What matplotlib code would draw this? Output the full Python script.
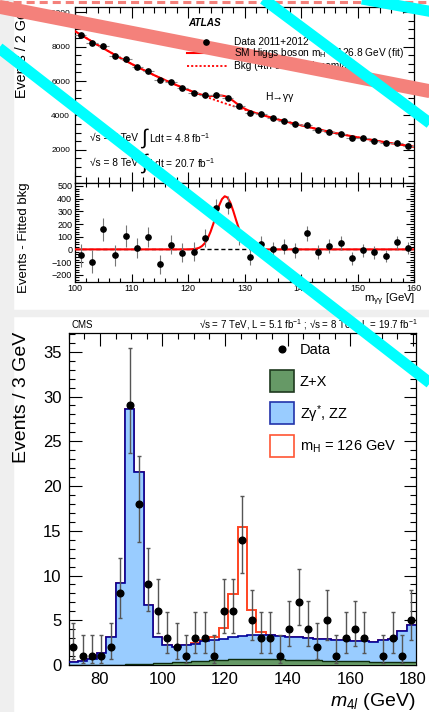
import numpy as np
import matplotlib
matplotlib.use('Agg')
import matplotlib.pyplot as plt
import matplotlib.transforms as mtransforms
from matplotlib.patches import Rectangle
from matplotlib.lines import Line2D
from matplotlib.ticker import MultipleLocator, FixedLocator

plt.rcParams['font.family'] = ['Liberation Sans', 'DejaVu Sans']
plt.rcParams['mathtext.fontset'] = 'custom'
plt.rcParams['mathtext.rm'] = 'Liberation Sans'
plt.rcParams['mathtext.it'] = 'Liberation Sans:italic'
plt.rcParams['mathtext.bf'] = 'Liberation Sans:bold'
plt.rcParams['lines.scale_dashes'] = False

W, H = 429, 712

# ---- ATLAS H->gamma gamma (2 GeV bins) ----
atlas_centers = np.arange(101, 160, 2)
atlas_counts = [8674, 8190, 8054, 7454, 7280, 6834, 6602, 6060, 5944, 5595,
                5324, 5208, 5208, 4995, 4550, 4163, 4066, 3833, 3698, 3485,
                3446, 3156, 3059, 2923, 2710, 2672, 2517, 2381, 2381, 2246]
atlas_resid = [-48, -98, 158, -48, 108, 11, 98, -119, 37, -26,
               -18, 92, 325, 348, 100, -61, 40, 0, 21, -8,
               127, -18, 24, 50, -71, -8, -24, -53, 55, 8]
# 4th order polynomial background fit, read every 2 GeV
bkg_x = np.arange(100, 161, 2)
bkg_fit = [8900, 8500, 8100, 7720, 7350, 7000, 6665, 6345, 6045, 5760,
           5490, 5235, 4990, 4760, 4545, 4335, 4135, 3945, 3765, 3595,
           3430, 3275, 3125, 2985, 2855, 2730, 2610, 2495, 2385, 2280, 2180]
# fitted signal (S+B - B), read every 0.5 GeV
sig_x = np.arange(119, 134.1, 0.5)
sig_fit = [0, 0.1, 0.3, 1, 2.5, 6, 13, 27, 50, 87, 140, 204, 276, 345, 396,
           419, 409, 368, 305, 233, 164, 106, 64, 35, 18, 8, 4, 1.5, 0.5, 0, 0]

# ---- CMS H->4l (3 GeV bins, 70-181) ----
cms_edges = np.arange(70, 182, 3)
cms_data = [2, 1, 1, 1, 2, 8, 29, 18, 9, 6, 3, 2, 1, 3, 3, 1, 6, 6, 14, 5,
            3, 3, 1, 4, 7, 4, 2, 5, 1, 3, 4, 3, 0, 1, 3, 1, 5]
cms_zx = [0.0, 0.0, 0.01, 0.02, 0.03, 0.05, 0.08, 0.12, 0.16, 0.21, 0.27, 0.33,
          0.39, 0.45, 0.5, 0.55, 0.59, 0.62, 0.64, 0.65, 0.65, 0.64, 0.62, 0.6,
          0.58, 0.55, 0.52, 0.5, 0.47, 0.44, 0.42, 0.4, 0.37, 0.35, 0.33, 0.31, 0.3]
cms_zz = [0.35, 0.45, 0.69, 1.28, 3.07, 9.15, 28.52, 21.48, 6.54, 2.89, 1.93, 1.67,
          1.81, 1.95, 2.2, 2.25, 2.31, 2.48, 2.56, 2.7, 2.75, 2.66, 2.58, 2.55,
          2.52, 2.5, 2.38, 2.35, 2.33, 2.31, 2.28, 2.25, 2.23, 2.4, 2.57, 3.49, 4.2]
cms_sig = [0, 0, 0, 0, 0, 0, 0, 0, 0.05, 0.03, 0.03, 0.04, 0.05, 0.06, 0.1, 0.3,
           1.2, 4.8, 12.2, 2.85, 0.3, 0.1, 0.05] + [0.02] * 14
# Garwood 68% intervals
pois_lo = {1: 0.83, 2: 1.29, 3: 1.63, 4: 1.91, 5: 2.16, 6: 2.38, 7: 2.58,
           8: 2.77, 9: 2.94, 14: 3.70, 18: 4.21, 29: 5.33}
pois_hi = {1: 2.30, 2: 2.64, 3: 2.92, 4: 3.16, 5: 3.38, 6: 3.58, 7: 3.77,
           8: 3.94, 9: 4.11, 14: 4.83, 18: 5.30, 29: 6.43}

fig = plt.figure(figsize=(W / 100, H / 100), dpi=100)
pix = mtransforms.Affine2D().scale(1 / W, -1 / H).translate(0, 1) + fig.transFigure


def box(l, t, r, b):
    return [l / W, 1 - b / H, (r - l) / W, (b - t) / H]


def root_ticks(ax, size, maj, mnr):
    ax.tick_params(which='both', direction='in', top=True, right=True,
                   labelsize=size, width=0.8, colors='black')
    ax.tick_params(which='major', length=maj)
    ax.tick_params(which='minor', length=mnr)
    for s in ax.spines.values():
        s.set_linewidth(0.9)


def ftext(x, y, s, **kw):
    return fig.text(x, y, s, transform=pix, **kw)


def ylabel_up(x, y_start, s, size):
    # rotated label that reads upward starting at y_start
    return ftext(x, y_start, s, rotation=90, rotation_mode='anchor',
                 ha='left', va='center', fontsize=size)


# grey page bits
fig.add_artist(Rectangle((0, 0), 13, H, transform=pix, color='#efefef', zorder=-5))
fig.add_artist(Rectangle((0, 310), W, 6, transform=pix, color='#efefef', zorder=-5))

# ---------- ATLAS main ----------
ax1 = fig.add_axes(box(75, 7.3, 414, 182.7))
ax1.errorbar(atlas_centers, atlas_counts, xerr=1, yerr=np.sqrt(atlas_counts),
             fmt='o', ms=3.8, color='black', ecolor='#888888', elinewidth=0.8, zorder=4)
ax1.plot(bkg_x, bkg_fit, color='red', lw=1.3, ls=(0, (1.5, 1.5)), zorder=3)
bkg_arr = np.array(bkg_fit, dtype=float)
left = bkg_x < sig_x[0]
right = bkg_x > sig_x[-1]
sb_x = np.concatenate([bkg_x[left], sig_x, bkg_x[right]])
sb_y = np.concatenate([bkg_arr[left], np.interp(sig_x, bkg_x, bkg_arr) + sig_fit,
                       bkg_arr[right]])
ax1.plot(sb_x, sb_y, color='red', lw=1.5, zorder=3)
ax1.set_xlim(100, 160)
ax1.set_ylim(90, 10290)
ax1.yaxis.set_major_locator(FixedLocator(range(2000, 10001, 2000)))
ax1.yaxis.set_minor_locator(MultipleLocator(500))
ax1.xaxis.set_major_locator(MultipleLocator(10))
ax1.xaxis.set_minor_locator(MultipleLocator(2))
root_ticks(ax1, 6, 8, 4)
ax1.tick_params(labelbottom=False)

# ---------- ATLAS residual ----------
ax2 = fig.add_axes(box(75, 182.7, 414, 281.7))
ax2.axhline(0, color='black', lw=1, ls=(0, (3, 2)), zorder=2)
res_x = np.concatenate([[100], sig_x, [160]])
res_y = np.concatenate([[0], sig_fit, [0]])
ax2.plot(res_x, res_y, color='red', lw=1.5, zorder=3)
ax2.errorbar(atlas_centers, atlas_resid, yerr=np.sqrt(atlas_counts),
             fmt='o', ms=3.8, color='black', ecolor='#777777', elinewidth=0.8, zorder=4)
ax2.set_xlim(100, 160)
ax2.set_ylim(-255, 526)
ax2.yaxis.set_major_locator(MultipleLocator(100))
ax2.yaxis.set_minor_locator(MultipleLocator(20))
ax2.xaxis.set_major_locator(MultipleLocator(10))
ax2.xaxis.set_minor_locator(MultipleLocator(2))
root_ticks(ax2, 6.5, 6, 3)
ax2.tick_params(axis='x', pad=1.5)
ax2.tick_params(axis='y', pad=2)

ylabel_up(22.5, 98, 'Events / 2 GeV', 10.3)
ylabel_up(23.5, 293, 'Events - Fitted bkg', 9.5)
ftext(415, 300, r'm$_{\mathrm{γγ}}$ [GeV]', ha='right', va='center', fontsize=8.2)
ftext(188, 23, 'ATLAS', ha='left', va='center', fontsize=7.2,
      fontweight='bold', fontstyle='italic')
fig.add_artist(Line2D([206], [42], marker='o', ms=3.8, color='black',
                      transform=pix, zorder=12))
fig.add_artist(Line2D([187, 227], [53, 53], color='red', lw=1.5, transform=pix))
fig.add_artist(Line2D([187, 227], [66, 66], color='red', lw=1.3,
                      ls=(0, (1.5, 1.5)), transform=pix))
ftext(234, 42, 'Data 2011+2012', va='center', fontsize=7.3, zorder=12)
ftext(234, 53, r'SM Higgs boson m$_{\mathrm{H}}$ = 126.8 GeV (fit)', va='center',
      fontsize=7.3, zorder=12)
ftext(234, 66, 'Bkg (4th order polynomial)', va='center', fontsize=7.3)
ftext(265, 97, 'H→γγ', va='center', fontsize=7.5)
for yy, e, lumi in [(138, '7', '4.8'), (163, '8', '20.7')]:
    ftext(90, yy, '√s = %s TeV' % e, va='center', fontsize=7.3)
    ftext(141, yy, '∫', va='center', fontsize=15)
    ftext(149, yy, r'Ldt = %s fb$^{-1}$' % lumi, va='center', fontsize=7.3)

# ---------- CMS ----------
ax3 = fig.add_axes(box(68.6, 333, 416, 665))
zx = np.array(cms_zx)
bg = zx + np.array(cms_zz)
tot = bg + np.array(cms_sig)
ax3.stairs(tot, cms_edges, color='#ff4422', lw=1.4, baseline=None, zorder=1)
ax3.stairs(bg, cms_edges, fill=True, color='#99ccff', zorder=2)
ax3.stairs(bg, cms_edges, color='#000099', lw=1.2, baseline=None, zorder=3)
ax3.stairs(zx, cms_edges, fill=True, color='#669966', zorder=4)
ax3.stairs(zx, cms_edges, color='#0d2b0d', lw=1.0, baseline=None, zorder=5)
centers = (cms_edges[:-1] + cms_edges[1:]) / 2
data = np.array(cms_data)
keep = data > 0
lo = [pois_lo[n] for n in data[keep]]
hi = [pois_hi[n] for n in data[keep]]
ax3.errorbar(centers[keep], data[keep], yerr=[lo, hi], fmt='o', ms=4.8,
             color='black', ecolor='#555555', elinewidth=1.0, capsize=1.5,
             capthick=1.0, zorder=6)
ax3.set_xlim(70, 181)
ax3.set_ylim(0, 37.1)
ax3.xaxis.set_major_locator(MultipleLocator(20))
ax3.xaxis.set_minor_locator(MultipleLocator(5))
ax3.yaxis.set_major_locator(MultipleLocator(5))
ax3.yaxis.set_minor_locator(MultipleLocator(1))
root_ticks(ax3, 12, 9, 4.5)
ax3.tick_params(axis='x', pad=5)
ax3.tick_params(axis='y', pad=5)

ftext(72, 325, 'CMS', va='center', fontsize=7)
ftext(418, 325, r'√s = 7 TeV, L = 5.1 fb$^{-1}$ ; √s = 8 TeV, L = 19.7 fb$^{-1}$',
      ha='right', va='center', fontsize=7)
ylabel_up(21, 463, 'Events / 3 GeV', 14)
ftext(416, 701, r'$m_{4l}$ (GeV)', ha='right', va='center', fontsize=14)

# CMS legend
fig.add_artist(Line2D([282], [349], marker='o', ms=4.8, color='black', transform=pix))
ftext(300, 350, 'Data', va='center', fontsize=10.5)
leg_boxes = [(370, '#669966', '#1f3a1f', 'Z+X'),
             (402, '#99ccff', '#2233aa', r'Zγ$^{*}$, ZZ'),
             (435, 'white', '#ff5533', r'm$_{\mathrm{H}}$ = 126 GeV')]
for top, fc, ec, lab in leg_boxes:
    fig.add_artist(Rectangle((270, top), 24, 22, transform=pix, facecolor=fc,
                             edgecolor=ec, lw=1.2))
    ftext(300, top + 12, lab, va='center', fontsize=10.5)

# overlay strokes
fig.add_artist(Line2D([0, W], [1.5, 1.5], color='#f4817b', lw=2.2,
                      ls=(0, (5.8, 3.6)), transform=pix, zorder=10))
fig.add_artist(Line2D([-10, W + 10], [5, 93], color='#f4817b', lw=10,
                      transform=pix, zorder=10, solid_capstyle='butt'))
fig.add_artist(Line2D([-10, W + 10], [41, 390], color='#00ffff', lw=8,
                      transform=pix, zorder=13, solid_capstyle='butt'))
fig.add_artist(Line2D([250, W + 10], [-11, 130], color='#00ffff', lw=8,
                      transform=pix, zorder=13, solid_capstyle='butt'))
fig.add_artist(Line2D([340, W + 10], [-5, 13], color='#00ffff', lw=8,
                      transform=pix, zorder=13, solid_capstyle='butt'))

fig.savefig('out.png', dpi=100, facecolor='white')
